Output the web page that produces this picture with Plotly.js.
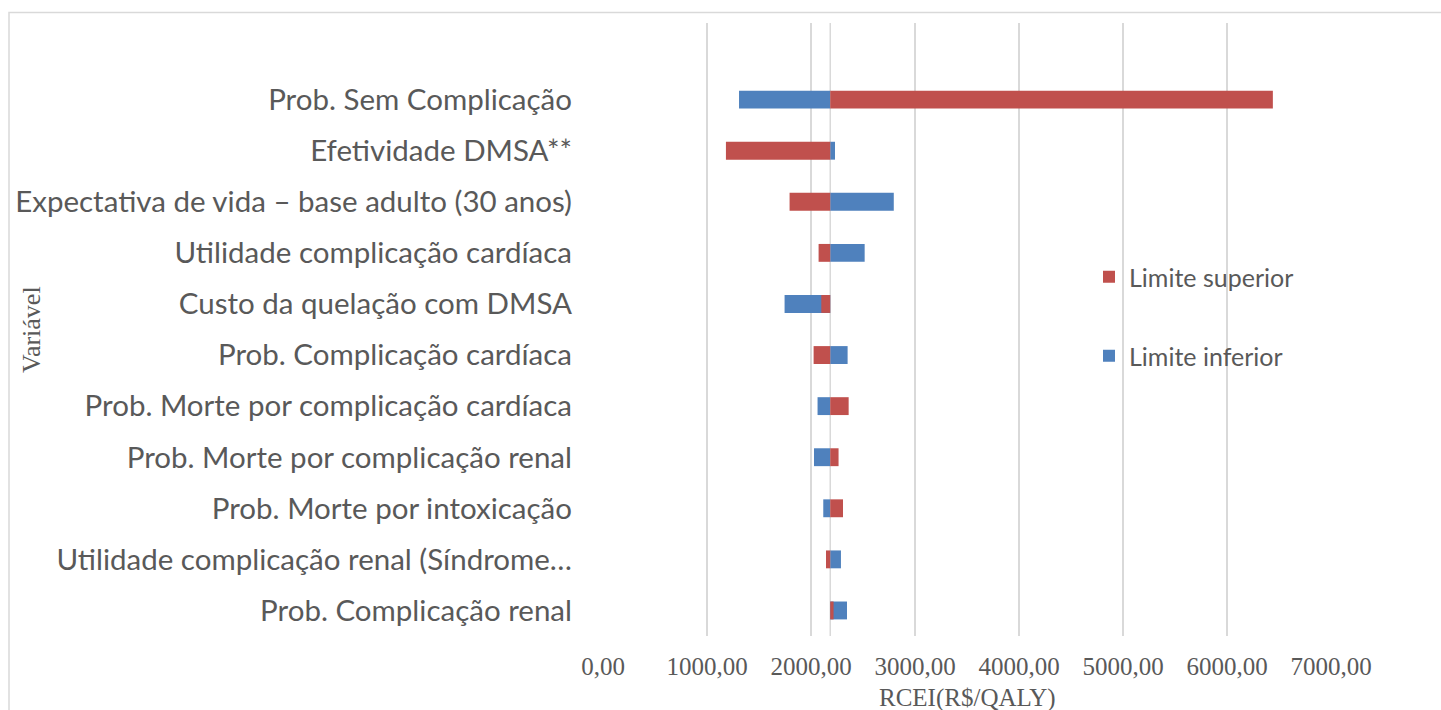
<!DOCTYPE html>
<html>
<head>
<meta charset="utf-8">
<script src="https://cdn.plot.ly/plotly-3.0.1.min.js"></script>
<style>
  html, body { margin: 0; padding: 0; background: #ffffff; }
  #chart { width: 1441px; height: 710px; }
</style>
</head>
<body>
<div id="chart"></div>
<script>
// ---- data ----
var categories = [
  "Prob. Sem Complicação",
  "Efetividade DMSA**",
  "Expectativa de vida – base adulto (30 anos)",
  "Utilidade complicação cardíaca",
  "Custo da quelação com DMSA",
  "Prob. Complicação cardíaca",
  "Prob. Morte por complicação cardíaca",
  "Prob. Morte por complicação renal",
  "Prob. Morte por intoxicação",
  "Utilidade complicação renal (Síndrome…",
  "Prob. Complicação renal"
];
var baseCase = 2185;
var limiteInferior = [1308, 2231, 2796, 2516, 1746, 2352, 2063, 2029, 2118, 2288, 2346];
var limiteSuperior = [6441, 1182, 1794, 2073, 2099, 2025, 2362, 2265, 2308, 2144, 2217];
var xTickValues = [0, 1000, 2000, 3000, 4000, 5000, 6000, 7000];

// ---- styling ----
var textGray = "#595959";
var gridGray = "#D9D9D9";
var sansFont = "Lato, 'Open Sans', sans-serif";
var serifFont = "'Liberation Serif', 'DejaVu Serif', serif";

function offsets(arr) { return arr.map(function (v) { return v - baseCase; }); }

var traceInf = {
  type: "bar", orientation: "h",
  name: "Limite inferior",
  y: categories, x: offsets(limiteInferior), base: baseCase,
  width: 0.35,
  marker: { color: "#4F81BD" },
  legend: "legend2",
  hoverinfo: "skip"
};
var traceSup = {
  type: "bar", orientation: "h",
  name: "Limite superior",
  y: categories, x: offsets(limiteSuperior), base: baseCase,
  width: 0.35,
  marker: { color: "#C0504D" },
  legend: "legend",
  hoverinfo: "skip"
};

var W = 1441, H = 710;
var mL = 603, mR = 110, mT = 23, mB = 74;
var plotW = W - mL - mR, plotH = H - mT - mB;
function px2paperX(px) { return (px - mL) / plotW; }
function px2paperY(py) { return (H - mB - py) / plotH; }

var layout = {
  width: W, height: H,
  margin: { l: mL, r: mR, t: mT, b: mB, pad: 0 },
  paper_bgcolor: "#ffffff",
  plot_bgcolor: "#ffffff",
  barmode: "overlay",
  separators: ",.",
  showlegend: true,
  xaxis: {
    range: [0, 7000],
    tickvals: xTickValues,
    tickformat: ".2f",
    showgrid: true, gridcolor: gridGray, gridwidth: 1.5,
    zeroline: false, showline: false,
    ticks: "",
    ticklabelstandoff: 13,
    tickfont: { family: serifFont, size: 25, color: textGray },
    automargin: false,
    fixedrange: true
  },
  yaxis: {
    type: "category",
    categoryorder: "array",
    categoryarray: categories,
    range: [10.5, -1.5],
    showgrid: false, zeroline: false, showline: false,
    ticks: "",
    ticklabelstandoff: 30,
    tickfont: { family: sansFont, size: 29.5, color: textGray },
    automargin: false,
    fixedrange: true
  },
  legend: {
    x: px2paperX(1089), xanchor: "left",
    y: px2paperY(277), yanchor: "middle",
    bgcolor: "rgba(0,0,0,0)", borderwidth: 0,
    font: { family: sansFont, size: 25, color: textGray }
  },
  legend2: {
    x: px2paperX(1089), xanchor: "left",
    y: px2paperY(356), yanchor: "middle",
    bgcolor: "rgba(0,0,0,0)", borderwidth: 0,
    font: { family: sansFont, size: 25, color: textGray }
  },
  shapes: [
    { type: "line", xref: "x", yref: "paper", x0: baseCase, x1: baseCase, y0: 0, y1: 1,
      line: { color: gridGray, width: 1.5 }, layer: "below" },
    { type: "rect", xref: "paper", yref: "paper",
      x0: px2paperX(9), x1: px2paperX(1460), y0: px2paperY(730), y1: px2paperY(12.5),
      line: { color: gridGray, width: 1.5 }, fillcolor: "rgba(0,0,0,0)", layer: "below" }
  ],
  annotations: [
    { text: "RCEI(R$/QALY)", xref: "paper", yref: "paper",
      x: 0.5, y: px2paperY(698), xanchor: "center", yanchor: "middle",
      showarrow: false, font: { family: serifFont, size: 25, color: textGray } },
    { text: "Variável", xref: "paper", yref: "paper",
      x: px2paperX(31), y: px2paperY(330), xanchor: "center", yanchor: "middle",
      textangle: -90,
      showarrow: false, font: { family: serifFont, size: 26, color: textGray } }
  ]
};

Plotly.newPlot("chart", [traceInf, traceSup], layout, { displayModeBar: false, staticPlot: true });
</script>
</body>
</html>
